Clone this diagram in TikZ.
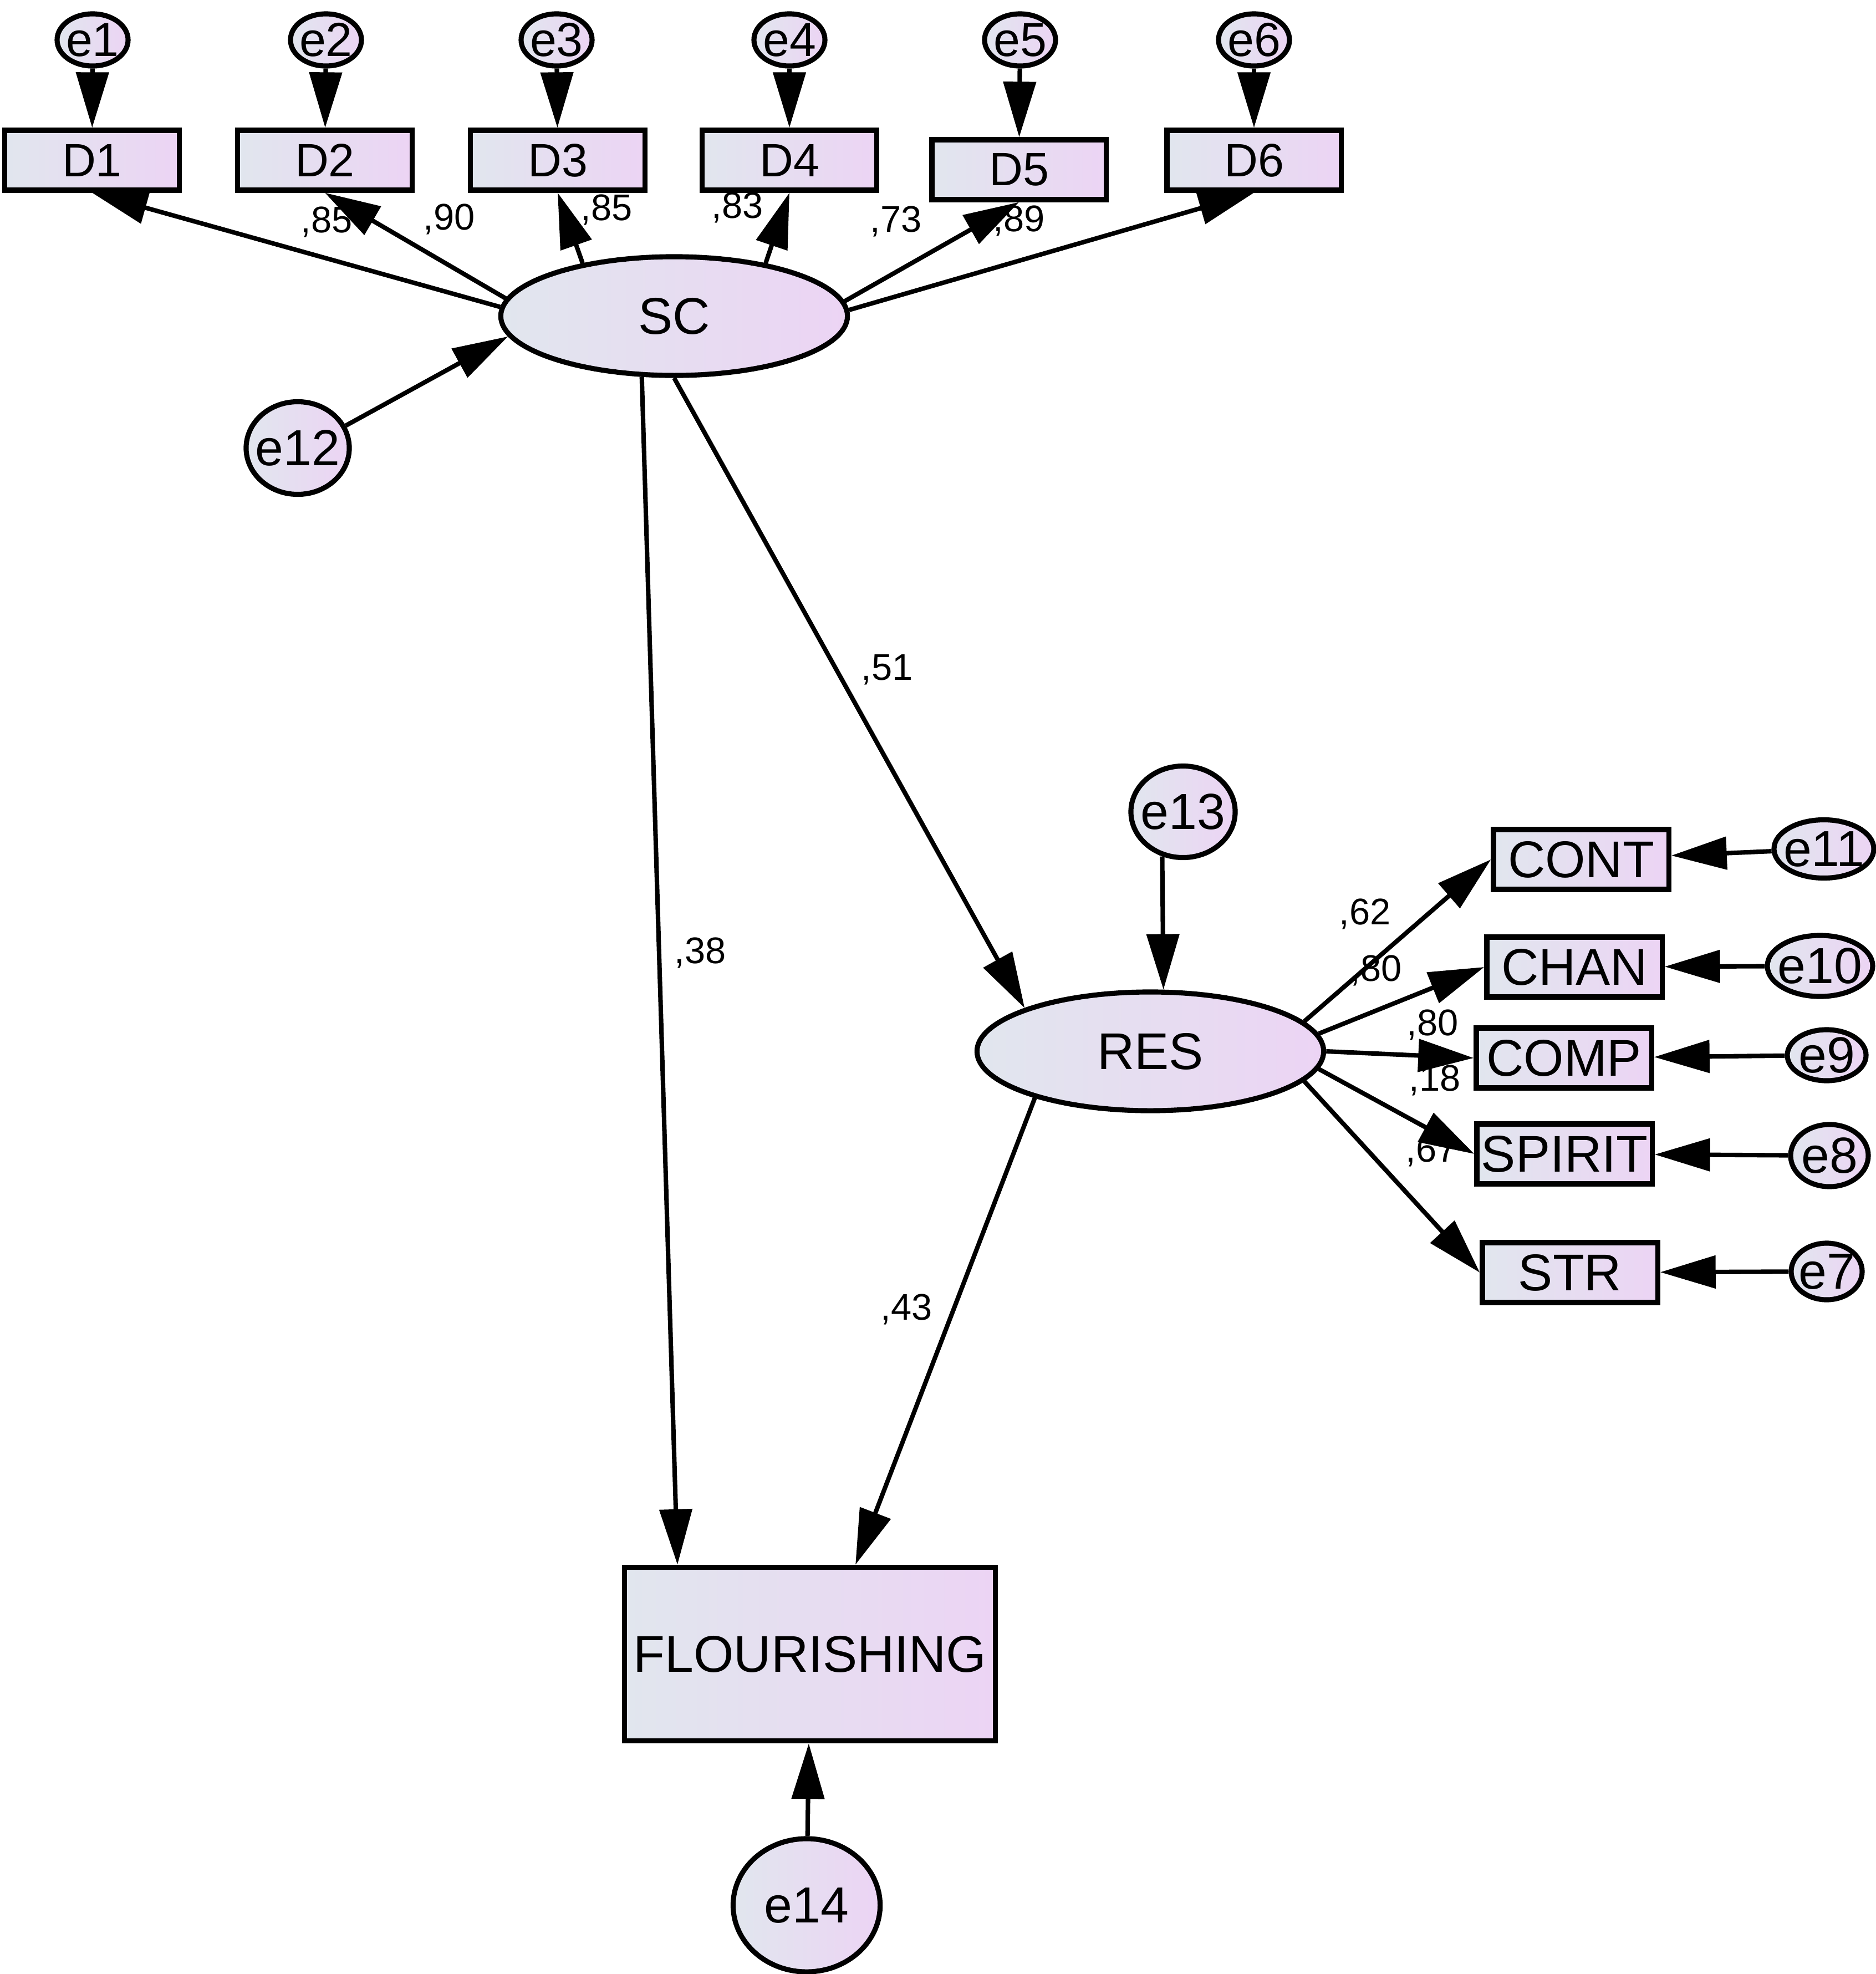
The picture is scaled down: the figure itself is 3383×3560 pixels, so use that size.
\documentclass[tikz,border=0pt]{standalone}
\usepackage{fontspec}
\setmainfont{Liberation Sans}
\usepackage{tikz}
\usetikzlibrary{arrows.meta,shapes.geometric}

\definecolor{amosL}{RGB}{225,230,238}
\definecolor{amosR}{RGB}{236,212,244}

\begin{document}
\begin{tikzpicture}[x=0.01cm, y=-0.01cm,
    shade/.style={draw, line width=2.6pt, left color=amosL, right color=amosR},
    item/.style={shade, rectangle, inner sep=0pt, minimum width=3.16cm, minimum height=1.08cm, font=\fontsize{26.5}{31}\selectfont},
    ditem/.style={item, minimum width=3.14cm, font=\fontsize{24}{28}\selectfont},
    latent/.style={shade, ellipse, inner sep=0pt, minimum width=6.25cm, minimum height=2.14cm, font=\fontsize{26.5}{31}\selectfont},
    err/.style={shade, ellipse, inner sep=-0.3cm, font=\fontsize{26}{31}\selectfont},
    derr/.style={err, minimum width=1.28cm, minimum height=0.94cm, font=\fontsize{24.5}{29}\selectfont},
    coef/.style={inner sep=0pt, font=\fontsize{19}{23}\selectfont},
    reg/.style={line width=2.3pt, -{Triangle[length=1cm, width=0.58cm]}}
  ]
  \useasboundingbox (0,0) rectangle (3383,3560);

  % Error terms of SC items
  \node[derr] (e1) at (167,72) {e1};
  \node[derr] (e2) at (588,72) {e2};
  \node[derr] (e3) at (1004,72) {e3};
  \node[derr] (e4) at (1424,72) {e4};
  \node[derr] (e5) at (1840,72) {e5};
  \node[derr] (e6) at (2262,72) {e6};

  % SC items
  \node[ditem] (D1) at (166,289) {D1};
  \node[ditem] (D2) at (586,289) {D2};
  \node[ditem] (D3) at (1006,289) {D3};
  \node[ditem] (D4) at (1424,289) {D4};
  \node[ditem] (D5) at (1838,306) {D5};
  \node[ditem] (D6) at (2262,289) {D6};

  % Latent variables and outcome
  \node[latent] (SC) at (1216,570) {SC};
  \node[latent] (RES) at (2075,1896) {RES};
  \node[item, minimum width=6.68cm, minimum height=3.13cm] (FL) at (1461,2983) {FLOURISHING};

  % Disturbances
  \node[err, minimum width=1.86cm, minimum height=1.67cm] (e12) at (537,808) {e12};
  \node[err, minimum width=1.88cm, minimum height=1.65cm] (e13) at (2134,1464) {e13};
  \node[err, minimum width=2.65cm, minimum height=2.40cm] (e14) at (1455,3436) {e14};

  % RES items
  \node[item] (CONT) at (2852,1550) {CONT};
  \node[item] (CHAN) at (2840,1744) {CHAN};
  \node[item] (COMP) at (2821,1908) {COMP};
  \node[item] (SPIRIT) at (2822,2081) {SPIRIT};
  \node[item] (STR) at (2832,2295) {STR};

  % Error terms of RES items
  \node[err, minimum width=1.80cm, minimum height=1.05cm] (e11) at (3290,1531) {e11};
  \node[err, minimum width=1.90cm, minimum height=1.10cm] (e10) at (3283,1742) {e10};
  \node[err, minimum width=1.42cm, minimum height=0.92cm] (e9) at (3295,1903) {e9};
  \node[err, minimum width=1.40cm, minimum height=1.12cm] (e8) at (3300,2084) {e8};
  \node[err, minimum width=1.28cm, minimum height=1.02cm] (e7) at (3295,2293) {e7};

  % Coefficients
  \node[coef] (c1) at (589,400) {,85};
  \node[coef] (c2) at (810,395) {,90};
  \node[coef] (c3) at (1094,378) {,85};
  \node[coef] (c4) at (1330,374) {,83};
  \node[coef] (c5) at (1616,399) {,73};
  \node[coef] (c6) at (1838,398) {,89};
  \node[coef] (c7) at (1600,1208) {,51};
  \node[coef] (c8) at (1263,1718) {,38};
  \node[coef] (c9) at (1635,2361) {,43};
  \node[coef] (c10) at (2462,1648) {,62};
  \node[coef] (c11) at (2482,1750) {,80};
  \node[coef] (c12) at (2584,1848) {,80};
  \node[coef] (c13) at (2588,1948) {,18};
  \node[coef] (c14) at (2582,2076) {,67};

  % Errors to SC items
  \draw[reg] (e1) -- (D1);
  \draw[reg] (e2) -- (D2);
  \draw[reg] (e3) -- (D3);
  \draw[reg] (e4) -- (D4);
  \draw[reg] (e5) -- (D5);
  \draw[reg] (e6) -- (D6);

  % SC loadings
  \draw[reg] (SC.177) -- (D1.south);
  \draw[reg] (SC.174) -- (D2.south);
  \draw[reg] (SC.150) -- (D3.south);
  \draw[reg] (SC.30) -- (D4.south);
  \draw[reg] (SC.5) -- (D5.south);
  \draw[reg] (SC.2) -- (D6.south);
  \draw[reg] (e12.25) -- (SC.187);

  % Structural paths
  \draw[reg] (SC.242) -- (FL.146);
  \draw[reg] (SC.south) -- (RES.161);
  \draw[reg] (RES.202) -- (FL.63);
  \draw[reg] (e13.245) -- (RES.78);
  \draw[reg] (e14) -- (FL);

  % RES loadings
  \draw[reg] (RES.11) -- (CONT.west);
  \draw[reg] (RES.6) -- (CHAN.west);
  \draw[reg] (RES.east) -- (COMP.west);
  \draw[reg] (RES.-6) -- (SPIRIT.west);
  \draw[reg] (RES.-11) -- (STR.west);

  % Errors to RES items
  \draw[reg] (e11) -- (CONT);
  \draw[reg] (e10) -- (CHAN);
  \draw[reg] (e9) -- (COMP);
  \draw[reg] (e8) -- (SPIRIT);
  \draw[reg] (e7) -- (STR);

\end{tikzpicture}
\end{document}
